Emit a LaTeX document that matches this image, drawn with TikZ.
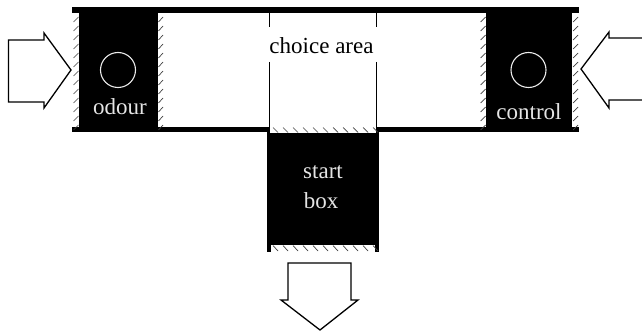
\documentclass[tikz,border=0pt]{standalone}
\usepackage{fontspec}
\setmainfont{Liberation Serif}
\tikzset{
  lbl/.style={inner sep=0pt,font=\fontsize{23}{26}\selectfont},
  whitelbl/.style={lbl,text=white!90!black},
  bigarrow/.style={draw=black,line width=1.3pt,fill=white,miter limit=10},
  hatchmark/.style={draw=black!75,line width=0.7pt},
  thinline/.style={draw=black,line width=0.8pt},
  odourring/.style={draw=white!92!black,line width=1.1pt}
}
\begin{document}
\begin{tikzpicture}[x=1pt,y=-1pt]
\useasboundingbox (0,0) rectangle (642,334);
\fill[white] (0,0) rectangle (642,334);
% walls
\fill[black] (72,7) rectangle (579,13);
\fill[black] (72,127) rectangle (579,132);
\fill[black] (79,7) rectangle (158,132);
\fill[black] (486,7) rectangle (572,132);
\fill[black] (267,127) rectangle (379,252);
% white strips
\fill[white] (270,127) rectangle (376,133);
\fill[white] (271,245) rectangle (375,252);
% side hatching
\foreach \y in {22,31,...,130} {
  \draw[hatchmark] (73.5,\y) -- (78.5,\y-5);
  \draw[hatchmark] (158.5,\y) -- (163,\y-5);
  \draw[hatchmark] (480.5,\y) -- (485.5,\y-5);
  \draw[hatchmark] (573,\y) -- (578,\y-5);
}
% horizontal hatching
\foreach \x in {273,283,...,373} {
  \draw[hatchmark] (\x,127.5) -- (\x+5,132.5);
  \draw[hatchmark] (\x,245.5) -- (\x+5,251);
}
% inner door lines
\draw[thinline] (269,13) -- (269,27);
\draw[thinline] (376.5,13) -- (376.5,27);
\draw[thinline] (269,62) -- (269,127);
\draw[thinline] (376.5,62) -- (376.5,127);
% circles
\node[circle,odourring,minimum size=35pt,inner sep=0pt] (odourport) at (118,70) {};
\node[circle,odourring,minimum size=35pt,inner sep=0pt] (controlport) at (528.5,70) {};
% labels
\node[lbl] (choice) at (321.5,46) {choice area};
\node[whitelbl] (odour) at (120,107) {odour};
\node[whitelbl] (control) at (529,112) {control};
\node[whitelbl] (start) at (323,172) {start};
\node[whitelbl] (box) at (321,201) {box};
% arrows
\draw[bigarrow] (8.5,40) -- (44,40) -- (44,33) -- (71,70) -- (44,108) -- (44,102) -- (8.5,102) -- cycle;
\draw[bigarrow] (643,38) -- (609,38) -- (609,32) -- (581,69) -- (609,108) -- (609,100) -- (643,100);
\draw[bigarrow] (288,263) -- (351,263) -- (351,300) -- (358,300) -- (320,330) -- (281,300) -- (288,300) -- cycle;
\end{tikzpicture}
\end{document}
